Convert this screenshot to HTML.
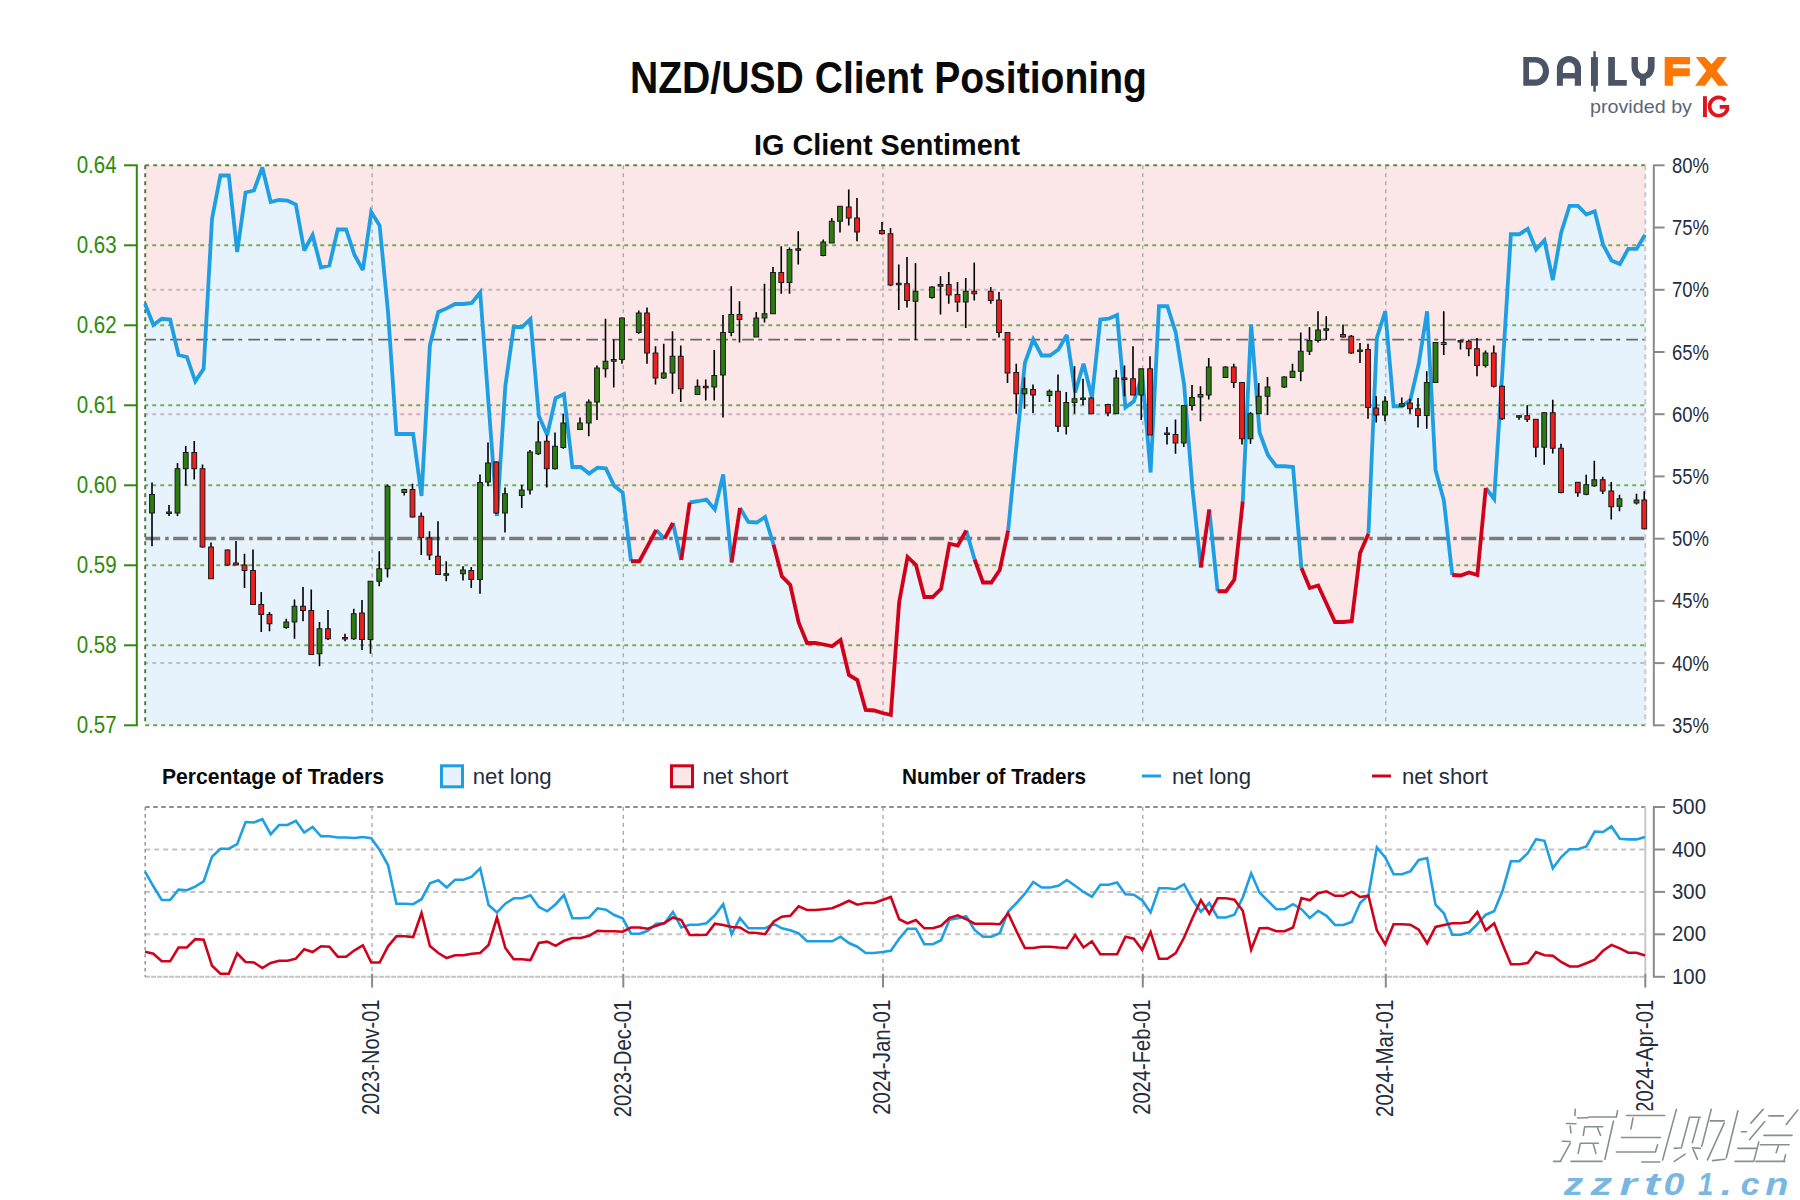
<!DOCTYPE html>
<html><head><meta charset="utf-8"><title>NZD/USD Client Positioning</title>
<style>
html,body{margin:0;padding:0;background:#fff;}
body{width:1800px;height:1200px;overflow:hidden;}
svg{display:block;font-family:"Liberation Sans",sans-serif;}
</style></head><body>
<svg width="1800" height="1200" viewBox="0 0 1800 1200">
<rect x="0" y="0" width="1800" height="1200" fill="#ffffff"/>

<text x="630" y="92.8" font-size="43.5" font-weight="bold" fill="#0a0a0a" textLength="517" lengthAdjust="spacingAndGlyphs">NZD/USD Client Positioning</text>
<text x="754" y="155" font-size="30" font-weight="bold" fill="#0a0a0a" textLength="266" lengthAdjust="spacingAndGlyphs">IG Client Sentiment</text>
<rect x="145.2" y="165.3" width="1500.1" height="560.0" fill="#fbe6e8"/>
<polygon points="145.2,725.3 145.00,303.75 153.38,325.00 161.76,318.75 170.14,319.50 178.52,355.00 186.90,357.00 195.28,381.25 203.66,368.75 212.04,218.75 220.42,175.50 228.80,175.50 237.18,252.00 245.56,192.50 253.94,190.50 262.32,167.50 270.70,202.00 279.08,200.00 287.46,200.50 295.84,204.50 304.22,250.50 312.60,235.00 320.98,267.50 329.36,265.50 337.74,229.50 346.12,229.50 354.50,255.00 362.88,270.00 371.26,212.00 379.64,225.50 388.02,312.00 396.40,434.00 404.78,434.00 413.16,434.00 421.54,496.00 429.92,345.00 438.30,312.00 446.68,308.40 455.06,304.00 463.44,304.00 471.82,303.00 480.20,292.40 488.58,404.00 496.96,516.00 505.34,386.00 513.72,327.00 522.09,327.00 530.47,319.00 538.85,416.00 547.23,435.00 555.61,398.00 563.99,394.00 572.37,467.00 580.75,467.00 589.13,473.60 597.51,467.60 605.89,468.40 614.27,486.00 622.65,492.50 631.03,561.25 639.41,561.25 647.79,545.60 656.17,530.00 664.55,538.75 672.93,523.00 681.31,560.00 689.69,502.50 698.07,501.25 706.45,499.50 714.83,509.50 723.21,474.50 731.59,562.50 739.97,508.00 748.35,522.00 756.73,522.50 765.11,517.00 773.49,544.50 781.87,576.25 790.25,585.00 798.63,622.50 807.01,643.00 815.39,643.00 823.77,644.50 832.15,646.25 840.53,640.00 848.91,675.00 857.29,680.00 865.67,710.00 874.05,710.50 882.43,713.00 890.81,715.00 899.19,602.00 907.57,557.00 915.95,565.00 924.33,597.00 932.71,597.00 941.09,588.75 949.47,543.75 957.85,545.50 966.23,530.50 974.61,559.50 982.99,582.50 991.37,582.50 999.75,570.00 1008.13,530.50 1016.51,445.00 1024.89,363.00 1033.27,339.50 1041.65,355.50 1050.03,355.50 1058.41,349.50 1066.79,335.00 1075.17,392.50 1083.55,363.75 1091.93,397.50 1100.31,319.50 1108.69,318.75 1117.07,315.00 1125.45,407.50 1133.83,401.25 1142.21,375.00 1150.59,472.50 1158.97,306.25 1167.35,306.25 1175.73,332.50 1184.11,384.50 1192.49,488.75 1200.87,567.50 1209.25,509.50 1217.63,591.25 1226.01,591.25 1234.39,579.50 1242.77,501.25 1251.15,324.50 1259.53,432.50 1267.91,455.00 1276.28,466.25 1284.66,466.25 1293.04,467.00 1301.42,568.00 1309.80,588.00 1318.18,585.50 1326.56,603.75 1334.94,622.00 1343.32,622.00 1351.70,621.25 1360.08,553.00 1368.46,533.75 1376.84,338.00 1385.22,311.25 1393.60,406.25 1401.98,406.25 1410.36,400.00 1418.74,363.75 1427.12,311.25 1435.50,470.00 1443.88,500.50 1452.26,575.00 1460.64,575.50 1469.02,572.50 1477.40,575.00 1485.78,488.00 1494.16,499.00 1502.54,369.00 1510.92,234.25 1519.30,234.25 1527.68,228.75 1536.06,249.50 1544.44,240.30 1552.82,280.00 1561.20,232.40 1569.58,205.80 1577.96,205.80 1586.34,214.60 1594.72,211.30 1603.10,244.70 1611.48,260.50 1619.86,264.10 1628.24,248.90 1636.62,248.90 1645.00,234.80 1645.3,725.3" fill="#e7f3fc"/>
<line x1="145.2" y1="289.8" x2="1645.3" y2="289.8" stroke="#7a7a7a" stroke-opacity="0.42" stroke-width="2" stroke-dasharray="4 4" stroke-dashoffset="1"/>
<line x1="145.2" y1="414.2" x2="1645.3" y2="414.2" stroke="#7a7a7a" stroke-opacity="0.42" stroke-width="2" stroke-dasharray="4 4" stroke-dashoffset="1"/>
<line x1="145.2" y1="663.1" x2="1645.3" y2="663.1" stroke="#7a7a7a" stroke-opacity="0.42" stroke-width="2" stroke-dasharray="4 4" stroke-dashoffset="1"/>
<line x1="372.1" y1="165.3" x2="372.1" y2="725.3" stroke="#a8a8a8" stroke-width="1.3" stroke-dasharray="4 4"/>
<line x1="623.3" y1="165.3" x2="623.3" y2="725.3" stroke="#a8a8a8" stroke-width="1.3" stroke-dasharray="4 4"/>
<line x1="883.0" y1="165.3" x2="883.0" y2="725.3" stroke="#a8a8a8" stroke-width="1.3" stroke-dasharray="4 4"/>
<line x1="1142.8" y1="165.3" x2="1142.8" y2="725.3" stroke="#a8a8a8" stroke-width="1.3" stroke-dasharray="4 4"/>
<line x1="1385.8" y1="165.3" x2="1385.8" y2="725.3" stroke="#a8a8a8" stroke-width="1.3" stroke-dasharray="4 4"/>
<line x1="145.2" y1="245.3" x2="1645.3" y2="245.3" stroke="#78ad52" stroke-width="2" stroke-dasharray="4 4" stroke-dashoffset="1"/>
<line x1="145.2" y1="325.3" x2="1645.3" y2="325.3" stroke="#78ad52" stroke-width="2" stroke-dasharray="4 4" stroke-dashoffset="1"/>
<line x1="145.2" y1="405.3" x2="1645.3" y2="405.3" stroke="#78ad52" stroke-width="2" stroke-dasharray="4 4" stroke-dashoffset="1"/>
<line x1="145.2" y1="485.3" x2="1645.3" y2="485.3" stroke="#78ad52" stroke-width="2" stroke-dasharray="4 4" stroke-dashoffset="1"/>
<line x1="145.2" y1="565.3" x2="1645.3" y2="565.3" stroke="#78ad52" stroke-width="2" stroke-dasharray="4 4" stroke-dashoffset="1"/>
<line x1="145.2" y1="645.3" x2="1645.3" y2="645.3" stroke="#78ad52" stroke-width="2" stroke-dasharray="4 4" stroke-dashoffset="1"/>
<line x1="145.2" y1="339.6" x2="1645.3" y2="339.6" stroke="#6a6a6a" stroke-width="1.6" stroke-dasharray="11.8 4.2 4 6" stroke-dashoffset="1"/>
<line x1="145.2" y1="538.5" x2="1645.3" y2="538.5" stroke="#7a7a7a" stroke-width="3.5" stroke-dasharray="15 5 3.5 4.5"/>
<line x1="145.2" y1="165.3" x2="1645.3" y2="165.3" stroke="#5a8a3a" stroke-width="2" stroke-dasharray="4 4"/>
<line x1="145.2" y1="725.3" x2="1645.3" y2="725.3" stroke="#6fa04a" stroke-width="2" stroke-dasharray="4 4"/>
<line x1="145.2" y1="165.3" x2="145.2" y2="725.3" stroke="#5a7a40" stroke-width="2" stroke-dasharray="4 4"/>
<line x1="1645.3" y1="165.3" x2="1645.3" y2="725.3" stroke="#c8c8c8" stroke-width="2" stroke-dasharray="5 4"/>
<path d="M145.00,303.75L153.38,325.00L161.76,318.75L170.14,319.50L178.52,355.00L186.90,357.00L195.28,381.25L203.66,368.75L212.04,218.75L220.42,175.50L228.80,175.50L237.18,252.00L245.56,192.50L253.94,190.50L262.32,167.50L270.70,202.00L279.08,200.00L287.46,200.50L295.84,204.50L304.22,250.50L312.60,235.00L320.98,267.50L329.36,265.50L337.74,229.50L346.12,229.50L354.50,255.00L362.88,270.00L371.26,212.00L379.64,225.50L388.02,312.00L396.40,434.00L404.78,434.00L413.16,434.00L421.54,496.00L429.92,345.00L438.30,312.00L446.68,308.40L455.06,304.00L463.44,304.00L471.82,303.00L480.20,292.40L488.58,404.00L496.96,516.00L505.34,386.00L513.72,327.00L522.09,327.00L530.47,319.00L538.85,416.00L547.23,435.00L555.61,398.00L563.99,394.00L572.37,467.00L580.75,467.00L589.13,473.60L597.51,467.60L605.89,468.40L614.27,486.00L622.65,492.50L631.03,561.25M656.17,530.00L664.55,538.75M672.93,523.00L681.31,560.00M689.69,502.50L698.07,501.25L706.45,499.50L714.83,509.50L723.21,474.50L731.59,562.50M739.97,508.00L748.35,522.00L756.73,522.50L765.11,517.00L773.49,544.50M966.23,530.50L974.61,559.50M1008.13,530.50L1016.51,445.00L1024.89,363.00L1033.27,339.50L1041.65,355.50L1050.03,355.50L1058.41,349.50L1066.79,335.00L1075.17,392.50L1083.55,363.75L1091.93,397.50L1100.31,319.50L1108.69,318.75L1117.07,315.00L1125.45,407.50L1133.83,401.25L1142.21,375.00L1150.59,472.50L1158.97,306.25L1167.35,306.25L1175.73,332.50L1184.11,384.50L1192.49,488.75L1200.87,567.50M1209.25,509.50L1217.63,591.25M1242.77,501.25L1251.15,324.50L1259.53,432.50L1267.91,455.00L1276.28,466.25L1284.66,466.25L1293.04,467.00L1301.42,568.00M1368.46,533.75L1376.84,338.00L1385.22,311.25L1393.60,406.25L1401.98,406.25L1410.36,400.00L1418.74,363.75L1427.12,311.25L1435.50,470.00L1443.88,500.50L1452.26,575.00M1485.78,488.00L1494.16,499.00L1502.54,369.00L1510.92,234.25L1519.30,234.25L1527.68,228.75L1536.06,249.50L1544.44,240.30L1552.82,280.00L1561.20,232.40L1569.58,205.80L1577.96,205.80L1586.34,214.60L1594.72,211.30L1603.10,244.70L1611.48,260.50L1619.86,264.10L1628.24,248.90L1636.62,248.90L1645.00,234.80" stroke="#1e9fe3" stroke-width="3.8" fill="none" stroke-linejoin="miter" stroke-miterlimit="3" stroke-linecap="butt"/>
<path d="M631.03,561.25L639.41,561.25L647.79,545.60L656.17,530.00M664.55,538.75L672.93,523.00M681.31,560.00L689.69,502.50M731.59,562.50L739.97,508.00M773.49,544.50L781.87,576.25L790.25,585.00L798.63,622.50L807.01,643.00L815.39,643.00L823.77,644.50L832.15,646.25L840.53,640.00L848.91,675.00L857.29,680.00L865.67,710.00L874.05,710.50L882.43,713.00L890.81,715.00L899.19,602.00L907.57,557.00L915.95,565.00L924.33,597.00L932.71,597.00L941.09,588.75L949.47,543.75L957.85,545.50L966.23,530.50M974.61,559.50L982.99,582.50L991.37,582.50L999.75,570.00L1008.13,530.50M1200.87,567.50L1209.25,509.50M1217.63,591.25L1226.01,591.25L1234.39,579.50L1242.77,501.25M1301.42,568.00L1309.80,588.00L1318.18,585.50L1326.56,603.75L1334.94,622.00L1343.32,622.00L1351.70,621.25L1360.08,553.00L1368.46,533.75M1452.26,575.00L1460.64,575.50L1469.02,572.50L1477.40,575.00L1485.78,488.00" stroke="#d0021b" stroke-width="3.8" fill="none" stroke-linejoin="miter" stroke-miterlimit="3" stroke-linecap="butt"/>
<path d="M152.00,482.50V546.25M169.00,505.00V516.00M177.50,463.00V516.00M185.75,446.00V485.50M194.25,441.00V479.50M202.50,464.50V547.50M211.00,542.50V578.75M227.50,549.50V566.00M236.00,541.00V565.00M244.50,553.75V588.00M253.00,549.50V604.50M261.25,592.00V632.00M269.50,612.00V631.25M286.25,618.75V628.75M294.50,599.50V638.75M303.00,587.00V621.25M311.25,589.50V655.00M319.50,622.00V666.25M328.00,610.00V640.00M345.00,633.75V641.25M353.75,608.75V640.00M362.00,600.00V650.00M370.50,581.25V653.75M379.25,551.25V586.25M387.50,484.50V577.50M404.25,488.75V495.50M412.50,483.75V517.50M421.25,512.50V555.00M429.50,531.25V560.00M438.00,521.25V575.00M446.25,561.25V581.25M463.00,566.25V580.50M471.25,567.00V588.00M480.00,474.50V593.75M488.00,442.50V486.25M496.25,461.25V513.75M505.00,487.50V532.50M521.75,485.00V508.00M530.00,450.00V494.50M538.25,421.25V455.00M546.75,435.00V487.50M555.00,432.50V469.50M563.25,413.75V448.75M580.00,417.50V430.00M588.75,399.50V436.25M597.00,365.50V420.00M605.50,318.75V377.50M613.75,339.50V387.50M622.00,317.50V363.75M638.75,310.50V333.75M647.00,307.50V363.75M655.50,346.25V384.50M663.75,343.75V378.75M672.50,331.25V393.75M680.75,345.50V402.00M697.50,379.50V395.00M705.75,379.50V400.50M714.25,350.00V400.50M723.00,315.00V417.50M731.25,286.25V336.25M739.50,301.25V342.50M756.25,312.00V337.00M764.50,283.75V322.50M773.00,267.00V313.75M781.25,246.25V293.75M789.50,247.50V293.75M798.25,231.25V264.50M823.25,239.50V256.25M831.75,218.00V243.00M840.00,206.25V232.50M848.75,189.50V225.50M857.00,198.00V241.25M882.00,222.00V234.50M890.50,228.00V286.25M898.75,264.50V310.00M907.00,257.00V307.50M915.50,263.00V340.00M932.00,286.25V298.75M940.50,276.25V314.50M948.75,272.00V303.75M957.50,282.00V312.00M965.75,278.00V328.00M974.25,262.50V300.50M990.75,287.00V303.75M999.00,292.00V337.50M1007.50,332.50V383.00M1016.25,363.75V413.75M1024.50,377.50V408.75M1033.00,384.50V413.00M1049.50,389.50V402.00M1058.00,374.50V432.00M1066.25,392.00V434.50M1074.50,366.25V413.75M1083.00,378.75V405.00M1091.25,397.50V413.75M1108.00,403.75V416.25M1116.25,370.00V413.75M1124.50,365.50V396.25M1133.00,346.25V395.00M1141.25,368.75V420.00M1150.00,356.25V435.00M1167.00,427.00V444.50M1175.50,419.50V453.75M1183.75,405.50V447.00M1192.00,385.00V410.50M1200.50,386.25V421.25M1208.75,358.00V399.50M1225.50,366.25V378.00M1233.75,363.75V388.00M1242.00,382.00V444.50M1250.50,412.00V443.75M1258.75,383.00V413.75M1267.50,377.00V415.00M1284.25,376.25V388.00M1292.50,363.75V378.00M1300.75,332.50V381.25M1309.50,327.00V355.00M1318.00,311.25V342.50M1326.25,316.25V340.00M1343.00,324.50V337.50M1351.25,335.00V353.75M1360.00,343.00V363.00M1368.00,343.75V418.75M1376.25,396.25V422.50M1385.00,396.25V421.25M1401.75,397.50V407.00M1410.00,398.75V413.75M1418.00,398.00V427.50M1426.75,371.25V428.75M1435.50,342.00V383.00M1443.75,311.25V355.00M1460.50,340.00V349.50M1468.75,339.50V356.25M1477.00,338.00V376.25M1485.50,350.50V367.50M1493.75,345.50V387.50M1502.00,385.50V420.00M1519.00,415.25V419.75M1527.25,405.20V422.00M1535.80,419.00V457.25M1544.20,412.25V464.75M1552.75,399.80V453.50M1561.00,443.75V493.25M1577.80,482.00V496.70M1586.20,474.80V495.20M1594.30,460.70V486.80M1602.70,476.75V494.00M1611.25,482.00V519.50M1619.50,494.75V511.25M1636.50,493.70V504.50M1644.25,491.30V529.25" stroke="#000" stroke-width="1.6" fill="none"/>
<g fill="#2a7d0e" stroke="#1a1a1a" stroke-width="1"><rect x="149.60" y="494.50" width="4.8" height="18.50"/><rect x="166.60" y="512.00" width="4.8" height="1.50"/><rect x="175.10" y="468.75" width="4.8" height="44.25"/><rect x="183.35" y="452.50" width="4.8" height="16.25"/><rect x="283.85" y="622.00" width="4.8" height="5.50"/><rect x="292.10" y="606.25" width="4.8" height="15.75"/><rect x="317.10" y="628.75" width="4.8" height="25.00"/><rect x="351.35" y="613.75" width="4.8" height="25.00"/><rect x="368.10" y="581.25" width="4.8" height="58.25"/><rect x="376.85" y="568.75" width="4.8" height="12.50"/><rect x="385.10" y="486.25" width="4.8" height="82.50"/><rect x="401.85" y="489.50" width="4.8" height="3.00"/><rect x="443.85" y="573.75" width="4.8" height="1.50"/><rect x="460.60" y="570.00" width="4.8" height="3.75"/><rect x="477.60" y="482.50" width="4.8" height="97.00"/><rect x="485.60" y="463.00" width="4.8" height="19.00"/><rect x="502.60" y="493.75" width="4.8" height="19.25"/><rect x="519.35" y="490.00" width="4.8" height="5.50"/><rect x="527.60" y="452.00" width="4.8" height="38.00"/><rect x="535.85" y="442.00" width="4.8" height="11.75"/><rect x="552.60" y="446.25" width="4.8" height="22.50"/><rect x="560.85" y="423.00" width="4.8" height="24.50"/><rect x="577.60" y="423.00" width="4.8" height="6.50"/><rect x="586.35" y="402.00" width="4.8" height="21.00"/><rect x="594.60" y="368.00" width="4.8" height="34.00"/><rect x="603.10" y="361.25" width="4.8" height="7.50"/><rect x="611.35" y="359.50" width="4.8" height="1.75"/><rect x="619.60" y="318.00" width="4.8" height="41.50"/><rect x="636.35" y="313.00" width="4.8" height="19.50"/><rect x="661.35" y="373.00" width="4.8" height="5.00"/><rect x="670.10" y="356.25" width="4.8" height="16.75"/><rect x="695.10" y="386.25" width="4.8" height="8.25"/><rect x="711.85" y="375.50" width="4.8" height="11.50"/><rect x="720.60" y="332.50" width="4.8" height="42.50"/><rect x="728.85" y="314.50" width="4.8" height="18.00"/><rect x="753.85" y="318.00" width="4.8" height="19.00"/><rect x="762.10" y="313.75" width="4.8" height="4.25"/><rect x="770.60" y="272.50" width="4.8" height="41.25"/><rect x="787.10" y="249.50" width="4.8" height="33.00"/><rect x="795.85" y="248.75" width="4.8" height="1.50"/><rect x="820.85" y="242.00" width="4.8" height="13.50"/><rect x="829.35" y="221.25" width="4.8" height="21.75"/><rect x="837.60" y="206.25" width="4.8" height="15.00"/><rect x="896.35" y="283.25" width="4.8" height="1.50"/><rect x="913.10" y="291.25" width="4.8" height="10.00"/><rect x="929.60" y="287.00" width="4.8" height="10.50"/><rect x="938.10" y="284.50" width="4.8" height="1.75"/><rect x="963.35" y="291.25" width="4.8" height="10.75"/><rect x="1022.10" y="388.75" width="4.8" height="5.00"/><rect x="1047.10" y="391.25" width="4.8" height="4.25"/><rect x="1063.85" y="402.50" width="4.8" height="23.75"/><rect x="1072.10" y="398.75" width="4.8" height="3.75"/><rect x="1080.60" y="398.00" width="4.8" height="1.50"/><rect x="1113.85" y="378.00" width="4.8" height="35.75"/><rect x="1138.85" y="368.75" width="4.8" height="26.25"/><rect x="1181.35" y="405.50" width="4.8" height="37.50"/><rect x="1189.60" y="397.50" width="4.8" height="8.00"/><rect x="1198.10" y="394.50" width="4.8" height="2.50"/><rect x="1206.35" y="367.00" width="4.8" height="28.00"/><rect x="1223.10" y="367.00" width="4.8" height="10.50"/><rect x="1248.10" y="413.75" width="4.8" height="25.00"/><rect x="1256.35" y="396.25" width="4.8" height="17.50"/><rect x="1265.10" y="387.00" width="4.8" height="9.25"/><rect x="1281.85" y="377.00" width="4.8" height="10.00"/><rect x="1290.10" y="371.25" width="4.8" height="6.25"/><rect x="1298.35" y="351.25" width="4.8" height="20.00"/><rect x="1307.10" y="340.50" width="4.8" height="10.75"/><rect x="1315.60" y="330.00" width="4.8" height="10.50"/><rect x="1323.85" y="328.75" width="4.8" height="1.50"/><rect x="1357.60" y="350.00" width="4.8" height="1.50"/><rect x="1382.60" y="401.25" width="4.8" height="13.75"/><rect x="1399.35" y="403.75" width="4.8" height="2.50"/><rect x="1424.35" y="382.50" width="4.8" height="33.00"/><rect x="1433.10" y="342.50" width="4.8" height="40.00"/><rect x="1458.10" y="340.50" width="4.8" height="1.50"/><rect x="1483.10" y="353.00" width="4.8" height="12.50"/><rect x="1516.60" y="415.70" width="4.8" height="1.50"/><rect x="1541.80" y="412.70" width="4.8" height="34.50"/><rect x="1583.80" y="484.70" width="4.8" height="9.60"/><rect x="1591.90" y="479.75" width="4.8" height="6.00"/><rect x="1617.10" y="498.80" width="4.8" height="7.50"/><rect x="1634.10" y="500.00" width="4.8" height="3.00"/></g>
<g fill="#f01e1e" stroke="#1a1a1a" stroke-width="1"><rect x="191.85" y="452.50" width="4.8" height="16.25"/><rect x="200.10" y="468.75" width="4.8" height="78.25"/><rect x="208.60" y="547.00" width="4.8" height="31.75"/><rect x="225.10" y="550.00" width="4.8" height="15.00"/><rect x="233.60" y="563.00" width="4.8" height="2.00"/><rect x="242.10" y="565.00" width="4.8" height="5.50"/><rect x="250.60" y="570.50" width="4.8" height="34.00"/><rect x="258.85" y="604.50" width="4.8" height="10.00"/><rect x="267.10" y="614.50" width="4.8" height="9.25"/><rect x="300.60" y="606.25" width="4.8" height="4.25"/><rect x="308.85" y="610.50" width="4.8" height="44.00"/><rect x="325.60" y="628.75" width="4.8" height="10.00"/><rect x="342.60" y="637.50" width="4.8" height="1.50"/><rect x="359.60" y="613.00" width="4.8" height="26.50"/><rect x="410.10" y="489.50" width="4.8" height="27.50"/><rect x="418.85" y="516.25" width="4.8" height="21.25"/><rect x="427.10" y="538.00" width="4.8" height="17.00"/><rect x="435.60" y="556.25" width="4.8" height="18.25"/><rect x="468.85" y="570.50" width="4.8" height="9.00"/><rect x="493.85" y="462.00" width="4.8" height="51.00"/><rect x="544.35" y="441.25" width="4.8" height="27.50"/><rect x="644.60" y="313.00" width="4.8" height="40.00"/><rect x="653.10" y="353.00" width="4.8" height="25.00"/><rect x="678.35" y="356.25" width="4.8" height="32.50"/><rect x="703.35" y="386.25" width="4.8" height="1.50"/><rect x="737.10" y="314.50" width="4.8" height="5.00"/><rect x="778.85" y="272.50" width="4.8" height="10.00"/><rect x="846.35" y="207.00" width="4.8" height="11.00"/><rect x="854.60" y="218.00" width="4.8" height="14.00"/><rect x="879.60" y="230.50" width="4.8" height="3.25"/><rect x="888.10" y="233.75" width="4.8" height="51.25"/><rect x="904.60" y="283.75" width="4.8" height="16.75"/><rect x="946.35" y="284.50" width="4.8" height="10.50"/><rect x="955.10" y="294.50" width="4.8" height="7.50"/><rect x="971.85" y="291.25" width="4.8" height="2.50"/><rect x="988.35" y="291.25" width="4.8" height="9.25"/><rect x="996.60" y="300.00" width="4.8" height="32.50"/><rect x="1005.10" y="332.50" width="4.8" height="40.50"/><rect x="1013.85" y="372.50" width="4.8" height="21.25"/><rect x="1030.60" y="389.50" width="4.8" height="5.50"/><rect x="1055.60" y="391.25" width="4.8" height="35.00"/><rect x="1088.85" y="398.00" width="4.8" height="15.75"/><rect x="1105.60" y="404.50" width="4.8" height="8.50"/><rect x="1122.10" y="378.00" width="4.8" height="1.50"/><rect x="1130.60" y="378.75" width="4.8" height="16.25"/><rect x="1147.60" y="368.75" width="4.8" height="66.25"/><rect x="1164.60" y="433.00" width="4.8" height="1.50"/><rect x="1173.10" y="434.50" width="4.8" height="8.50"/><rect x="1231.35" y="367.00" width="4.8" height="15.50"/><rect x="1239.60" y="382.50" width="4.8" height="56.25"/><rect x="1340.60" y="334.50" width="4.8" height="2.50"/><rect x="1348.85" y="336.25" width="4.8" height="16.75"/><rect x="1365.60" y="349.50" width="4.8" height="58.00"/><rect x="1373.85" y="408.00" width="4.8" height="7.00"/><rect x="1407.60" y="403.00" width="4.8" height="5.75"/><rect x="1415.60" y="408.75" width="4.8" height="6.75"/><rect x="1441.35" y="342.50" width="4.8" height="2.00"/><rect x="1466.35" y="341.25" width="4.8" height="7.50"/><rect x="1474.60" y="348.75" width="4.8" height="16.75"/><rect x="1491.35" y="353.00" width="4.8" height="33.25"/><rect x="1499.60" y="386.25" width="4.8" height="32.50"/><rect x="1524.85" y="415.70" width="4.8" height="3.60"/><rect x="1533.40" y="419.30" width="4.8" height="27.90"/><rect x="1550.35" y="412.70" width="4.8" height="35.55"/><rect x="1558.60" y="448.25" width="4.8" height="44.25"/><rect x="1575.40" y="482.30" width="4.8" height="10.50"/><rect x="1600.30" y="479.75" width="4.8" height="11.25"/><rect x="1608.85" y="491.00" width="4.8" height="15.75"/><rect x="1641.85" y="500.00" width="4.8" height="28.80"/></g>
<line x1="136.8" y1="165.3" x2="136.8" y2="725.3" stroke="#2f8a0a" stroke-width="2"/>
<line x1="124" y1="165.3" x2="137.8" y2="165.3" stroke="#2f8a0a" stroke-width="2"/>
<text x="116.7" y="172.9" font-size="23.5" fill="#2f8a0a" text-anchor="end" textLength="40" lengthAdjust="spacingAndGlyphs">0.64</text>
<line x1="124" y1="245.3" x2="137.8" y2="245.3" stroke="#2f8a0a" stroke-width="2"/>
<text x="116.7" y="252.9" font-size="23.5" fill="#2f8a0a" text-anchor="end" textLength="40" lengthAdjust="spacingAndGlyphs">0.63</text>
<line x1="124" y1="325.3" x2="137.8" y2="325.3" stroke="#2f8a0a" stroke-width="2"/>
<text x="116.7" y="332.9" font-size="23.5" fill="#2f8a0a" text-anchor="end" textLength="40" lengthAdjust="spacingAndGlyphs">0.62</text>
<line x1="124" y1="405.3" x2="137.8" y2="405.3" stroke="#2f8a0a" stroke-width="2"/>
<text x="116.7" y="412.9" font-size="23.5" fill="#2f8a0a" text-anchor="end" textLength="40" lengthAdjust="spacingAndGlyphs">0.61</text>
<line x1="124" y1="485.3" x2="137.8" y2="485.3" stroke="#2f8a0a" stroke-width="2"/>
<text x="116.7" y="492.9" font-size="23.5" fill="#2f8a0a" text-anchor="end" textLength="40" lengthAdjust="spacingAndGlyphs">0.60</text>
<line x1="124" y1="565.3" x2="137.8" y2="565.3" stroke="#2f8a0a" stroke-width="2"/>
<text x="116.7" y="572.9" font-size="23.5" fill="#2f8a0a" text-anchor="end" textLength="40" lengthAdjust="spacingAndGlyphs">0.59</text>
<line x1="124" y1="645.3" x2="137.8" y2="645.3" stroke="#2f8a0a" stroke-width="2"/>
<text x="116.7" y="652.9" font-size="23.5" fill="#2f8a0a" text-anchor="end" textLength="40" lengthAdjust="spacingAndGlyphs">0.58</text>
<line x1="124" y1="725.3" x2="137.8" y2="725.3" stroke="#2f8a0a" stroke-width="2"/>
<text x="116.7" y="732.9" font-size="23.5" fill="#2f8a0a" text-anchor="end" textLength="40" lengthAdjust="spacingAndGlyphs">0.57</text>
<line x1="1653.8" y1="165.3" x2="1653.8" y2="725.3" stroke="#8a8a8a" stroke-width="2"/>
<line x1="1653" y1="165.3" x2="1664.6" y2="165.3" stroke="#8a8a8a" stroke-width="2"/>
<text x="1672" y="172.8" font-size="22" fill="#1f2d3d" textLength="37" lengthAdjust="spacingAndGlyphs">80%</text>
<line x1="1653" y1="227.5" x2="1664.6" y2="227.5" stroke="#8a8a8a" stroke-width="2"/>
<text x="1672" y="235.0" font-size="22" fill="#1f2d3d" textLength="37" lengthAdjust="spacingAndGlyphs">75%</text>
<line x1="1653" y1="289.8" x2="1664.6" y2="289.8" stroke="#8a8a8a" stroke-width="2"/>
<text x="1672" y="297.2" font-size="22" fill="#1f2d3d" textLength="37" lengthAdjust="spacingAndGlyphs">70%</text>
<line x1="1653" y1="352.0" x2="1664.6" y2="352.0" stroke="#8a8a8a" stroke-width="2"/>
<text x="1672" y="359.5" font-size="22" fill="#1f2d3d" textLength="37" lengthAdjust="spacingAndGlyphs">65%</text>
<line x1="1653" y1="414.2" x2="1664.6" y2="414.2" stroke="#8a8a8a" stroke-width="2"/>
<text x="1672" y="421.7" font-size="22" fill="#1f2d3d" textLength="37" lengthAdjust="spacingAndGlyphs">60%</text>
<line x1="1653" y1="476.4" x2="1664.6" y2="476.4" stroke="#8a8a8a" stroke-width="2"/>
<text x="1672" y="483.9" font-size="22" fill="#1f2d3d" textLength="37" lengthAdjust="spacingAndGlyphs">55%</text>
<line x1="1653" y1="538.7" x2="1664.6" y2="538.7" stroke="#8a8a8a" stroke-width="2"/>
<text x="1672" y="546.2" font-size="22" fill="#1f2d3d" textLength="37" lengthAdjust="spacingAndGlyphs">50%</text>
<line x1="1653" y1="600.9" x2="1664.6" y2="600.9" stroke="#8a8a8a" stroke-width="2"/>
<text x="1672" y="608.4" font-size="22" fill="#1f2d3d" textLength="37" lengthAdjust="spacingAndGlyphs">45%</text>
<line x1="1653" y1="663.1" x2="1664.6" y2="663.1" stroke="#8a8a8a" stroke-width="2"/>
<text x="1672" y="670.6" font-size="22" fill="#1f2d3d" textLength="37" lengthAdjust="spacingAndGlyphs">40%</text>
<line x1="1653" y1="725.3" x2="1664.6" y2="725.3" stroke="#8a8a8a" stroke-width="2"/>
<text x="1672" y="732.8" font-size="22" fill="#1f2d3d" textLength="37" lengthAdjust="spacingAndGlyphs">35%</text>
<text x="162" y="784" font-size="21.5" font-weight="bold" fill="#0a0a0a" textLength="222" lengthAdjust="spacingAndGlyphs">Percentage of Traders</text>
<rect x="441.5" y="765.8" width="21" height="21" fill="#e7f3fc" stroke="#1e9fe3" stroke-width="3"/>
<text x="472.7" y="784" font-size="22" fill="#1f2d3d" textLength="79" lengthAdjust="spacingAndGlyphs">net long</text>
<rect x="671.5" y="765.8" width="21" height="21" fill="#fbe6e8" stroke="#d0021b" stroke-width="3"/>
<text x="702.5" y="784" font-size="22" fill="#1f2d3d" textLength="86" lengthAdjust="spacingAndGlyphs">net short</text>
<text x="902" y="784" font-size="21.5" font-weight="bold" fill="#0a0a0a" textLength="184" lengthAdjust="spacingAndGlyphs">Number of Traders</text>
<line x1="1142" y1="776" x2="1161" y2="776" stroke="#1e9fe3" stroke-width="3"/>
<text x="1172" y="784" font-size="22" fill="#1f2d3d" textLength="79" lengthAdjust="spacingAndGlyphs">net long</text>
<line x1="1372" y1="776" x2="1391" y2="776" stroke="#d0021b" stroke-width="3"/>
<text x="1402" y="784" font-size="22" fill="#1f2d3d" textLength="86" lengthAdjust="spacingAndGlyphs">net short</text>
<line x1="145.2" y1="807.0" x2="1645.3" y2="807.0" stroke="#8e8e8e" stroke-width="1.8" stroke-dasharray="4.5 3.5"/>
<line x1="145.2" y1="849.5" x2="1645.3" y2="849.5" stroke="#c4c4c4" stroke-width="2" stroke-dasharray="5 4"/>
<line x1="145.2" y1="891.9" x2="1645.3" y2="891.9" stroke="#c4c4c4" stroke-width="2" stroke-dasharray="5 4"/>
<line x1="145.2" y1="934.3" x2="1645.3" y2="934.3" stroke="#c4c4c4" stroke-width="2" stroke-dasharray="5 4"/>
<line x1="145.2" y1="976.8" x2="1645.3" y2="976.8" stroke="#c4c4c4" stroke-width="2" stroke-dasharray="5 1"/>
<line x1="145.2" y1="807.0" x2="145.2" y2="976.8" stroke="#9a9a9a" stroke-width="1.6" stroke-dasharray="3.5 3.5"/>
<line x1="1645.3" y1="807.0" x2="1645.3" y2="976.8" stroke="#c8c8c8" stroke-width="2"/>
<line x1="372.1" y1="807.0" x2="372.1" y2="976.8" stroke="#a8a8a8" stroke-width="1.3" stroke-dasharray="4 4"/>
<line x1="623.3" y1="807.0" x2="623.3" y2="976.8" stroke="#a8a8a8" stroke-width="1.3" stroke-dasharray="4 4"/>
<line x1="883.0" y1="807.0" x2="883.0" y2="976.8" stroke="#a8a8a8" stroke-width="1.3" stroke-dasharray="4 4"/>
<line x1="1142.8" y1="807.0" x2="1142.8" y2="976.8" stroke="#a8a8a8" stroke-width="1.3" stroke-dasharray="4 4"/>
<line x1="1385.8" y1="807.0" x2="1385.8" y2="976.8" stroke="#a8a8a8" stroke-width="1.3" stroke-dasharray="4 4"/>
<polyline points="145.00,871.70 153.38,886.30 161.76,900.00 170.14,900.00 178.52,889.70 186.90,890.30 195.28,886.70 203.66,881.30 212.04,856.70 220.42,848.70 228.80,848.70 237.18,844.20 245.56,822.00 253.94,822.50 262.32,819.20 270.70,834.20 279.08,825.00 287.46,825.00 295.84,820.80 304.22,832.50 312.60,827.00 320.98,836.30 329.36,836.30 337.74,837.50 346.12,837.50 354.50,838.00 362.88,837.00 371.26,838.30 379.64,850.00 388.02,865.00 396.40,903.70 404.78,903.70 413.16,904.20 421.54,899.20 429.92,883.30 438.30,880.30 446.68,887.50 455.06,879.70 463.44,879.70 471.82,876.70 480.20,868.30 488.58,905.00 496.96,912.50 505.34,903.70 513.72,898.30 522.09,898.30 530.47,895.30 538.85,907.00 547.23,911.30 555.61,904.20 563.99,895.00 572.37,918.30 580.75,918.30 589.13,917.50 597.51,908.30 605.89,909.70 614.27,915.00 622.65,918.30 631.03,933.70 639.41,933.70 647.79,930.80 656.17,923.70 664.55,923.30 672.93,912.00 681.31,927.50 689.69,924.70 698.07,924.70 706.45,923.30 714.83,915.30 723.21,904.20 731.59,934.20 739.97,918.00 748.35,928.30 756.73,928.30 765.11,928.30 773.49,923.70 781.87,928.30 790.25,930.30 798.63,933.30 807.01,941.30 815.39,941.30 823.77,941.30 832.15,941.30 840.53,936.70 848.91,943.00 857.29,946.70 865.67,953.00 874.05,953.00 882.43,952.00 890.81,950.80 899.19,938.70 907.57,928.70 915.95,928.70 924.33,944.20 932.71,944.20 941.09,940.30 949.47,919.70 957.85,918.30 966.23,916.30 974.61,930.00 982.99,936.70 991.37,936.70 999.75,933.30 1008.13,911.70 1016.51,903.00 1024.89,893.70 1033.27,882.00 1041.65,887.50 1050.03,887.50 1058.41,885.80 1066.79,880.00 1075.17,885.80 1083.55,892.00 1091.93,896.70 1100.31,884.70 1108.69,884.70 1117.07,882.50 1125.45,894.20 1133.83,894.70 1142.21,900.30 1150.59,912.50 1158.97,888.30 1167.35,888.30 1175.73,889.20 1184.11,884.20 1192.49,899.70 1200.87,911.70 1209.25,903.00 1217.63,917.50 1226.01,917.50 1234.39,914.70 1242.77,897.50 1251.15,873.30 1259.53,892.50 1267.91,900.80 1276.28,909.20 1284.66,909.20 1293.04,904.20 1301.42,909.20 1309.80,918.00 1318.18,910.80 1326.56,915.80 1334.94,925.00 1343.32,925.00 1351.70,922.00 1360.08,903.00 1368.46,895.00 1376.84,847.50 1385.22,857.50 1393.60,874.20 1401.98,874.20 1410.36,871.30 1418.74,860.00 1427.12,858.00 1435.50,904.70 1443.88,913.30 1452.26,934.70 1460.64,934.70 1469.02,932.50 1477.40,924.20 1485.78,914.70 1494.16,911.30 1502.54,890.80 1510.92,861.30 1519.30,861.30 1527.68,853.30 1536.06,839.20 1544.44,840.80 1552.82,868.30 1561.20,857.00 1569.58,849.30 1577.96,849.30 1586.34,846.50 1594.72,831.50 1603.10,832.00 1611.48,826.40 1619.86,838.70 1628.24,839.40 1636.62,839.40 1645.00,836.90" fill="none" stroke="#1e9fe3" stroke-width="2.6" stroke-linejoin="miter"/>
<polyline points="145.00,951.70 153.38,953.70 161.76,961.30 170.14,961.30 178.52,947.50 186.90,947.50 195.28,939.20 203.66,939.70 212.04,965.80 220.42,973.70 228.80,973.70 237.18,953.30 245.56,962.00 253.94,962.50 262.32,968.00 270.70,963.00 279.08,960.80 287.46,960.80 295.84,958.70 304.22,949.20 312.60,952.00 320.98,946.30 329.36,946.70 337.74,956.70 346.12,956.70 354.50,950.30 362.88,945.30 371.26,962.50 379.64,962.50 388.02,946.30 396.40,936.30 404.78,936.30 413.16,937.00 421.54,913.00 429.92,946.00 438.30,953.00 446.68,958.00 455.06,955.30 463.44,955.30 471.82,953.70 480.20,953.00 488.58,945.00 496.96,917.50 505.34,948.00 513.72,959.20 522.09,959.20 530.47,960.00 538.85,943.00 547.23,941.70 555.61,945.80 563.99,940.80 572.37,938.00 580.75,938.00 589.13,935.80 597.51,930.80 605.89,931.30 614.27,931.30 622.65,931.70 631.03,927.50 639.41,927.50 647.79,928.70 656.17,925.80 664.55,923.00 672.93,917.50 681.31,920.00 689.69,935.00 698.07,935.00 706.45,934.70 714.83,923.70 723.21,925.00 731.59,927.00 739.97,927.50 748.35,932.50 756.73,933.00 765.11,934.20 773.49,921.70 781.87,916.70 790.25,915.80 798.63,906.30 807.01,910.00 815.39,910.00 823.77,909.20 832.15,908.30 840.53,904.70 848.91,900.80 857.29,904.70 865.67,903.00 874.05,903.00 882.43,900.00 890.81,897.00 899.19,919.20 907.57,923.30 915.95,920.00 924.33,928.30 932.71,928.30 941.09,925.80 949.47,918.00 957.85,915.30 966.23,919.20 974.61,923.70 982.99,923.70 991.37,923.70 999.75,924.20 1008.13,913.30 1016.51,931.30 1024.89,948.00 1033.27,948.00 1041.65,946.70 1050.03,946.70 1058.41,947.50 1066.79,948.00 1075.17,935.00 1083.55,947.50 1091.93,941.30 1100.31,954.20 1108.69,954.20 1117.07,954.20 1125.45,936.70 1133.83,938.70 1142.21,950.00 1150.59,932.00 1158.97,958.70 1167.35,958.70 1175.73,953.00 1184.11,937.50 1192.49,918.00 1200.87,900.30 1209.25,913.70 1217.63,898.30 1226.01,898.30 1234.39,899.70 1242.77,910.80 1251.15,949.70 1259.53,928.30 1267.91,928.00 1276.28,931.30 1284.66,931.30 1293.04,927.50 1301.42,898.00 1309.80,900.30 1318.18,893.30 1326.56,891.30 1334.94,895.80 1343.32,895.80 1351.70,891.70 1360.08,897.00 1368.46,895.80 1376.84,930.30 1385.22,944.20 1393.60,924.20 1401.98,924.20 1410.36,924.70 1418.74,929.70 1427.12,943.30 1435.50,927.00 1443.88,925.00 1452.26,923.30 1460.64,923.30 1469.02,922.00 1477.40,912.00 1485.78,930.30 1494.16,923.30 1502.54,944.20 1510.92,964.20 1519.30,964.20 1527.68,963.00 1536.06,952.00 1544.44,955.30 1552.82,955.80 1561.20,962.00 1569.58,966.50 1577.96,966.50 1586.34,963.30 1594.72,959.75 1603.10,950.70 1611.48,944.90 1619.86,948.40 1628.24,952.75 1636.62,952.75 1645.00,955.40" fill="none" stroke="#d0021b" stroke-width="2.6" stroke-linejoin="miter"/>
<line x1="1653.8" y1="807.0" x2="1653.8" y2="976.8" stroke="#8a8a8a" stroke-width="2"/>
<line x1="1653" y1="807.0" x2="1665" y2="807.0" stroke="#8a8a8a" stroke-width="2"/>
<text x="1672" y="814.0" font-size="22" fill="#1f2d3d" textLength="34" lengthAdjust="spacingAndGlyphs">500</text>
<line x1="1653" y1="849.5" x2="1665" y2="849.5" stroke="#8a8a8a" stroke-width="2"/>
<text x="1672" y="856.5" font-size="22" fill="#1f2d3d" textLength="34" lengthAdjust="spacingAndGlyphs">400</text>
<line x1="1653" y1="891.9" x2="1665" y2="891.9" stroke="#8a8a8a" stroke-width="2"/>
<text x="1672" y="898.9" font-size="22" fill="#1f2d3d" textLength="34" lengthAdjust="spacingAndGlyphs">300</text>
<line x1="1653" y1="934.3" x2="1665" y2="934.3" stroke="#8a8a8a" stroke-width="2"/>
<text x="1672" y="941.3" font-size="22" fill="#1f2d3d" textLength="34" lengthAdjust="spacingAndGlyphs">200</text>
<line x1="1653" y1="976.8" x2="1665" y2="976.8" stroke="#8a8a8a" stroke-width="2"/>
<text x="1672" y="983.8" font-size="22" fill="#1f2d3d" textLength="34" lengthAdjust="spacingAndGlyphs">100</text>
<line x1="372.1" y1="973.8" x2="372.1" y2="987.6" stroke="#8a8a8a" stroke-width="2"/>
<text transform="translate(379.3,999.6) rotate(-90)" font-size="23.5" fill="#1f2d3d" text-anchor="end" textLength="115.5" lengthAdjust="spacingAndGlyphs">2023-Nov-01</text>
<line x1="623.3" y1="973.8" x2="623.3" y2="987.6" stroke="#8a8a8a" stroke-width="2"/>
<text transform="translate(630.5,999.6) rotate(-90)" font-size="23.5" fill="#1f2d3d" text-anchor="end" textLength="117.7" lengthAdjust="spacingAndGlyphs">2023-Dec-01</text>
<line x1="883.0" y1="973.8" x2="883.0" y2="987.6" stroke="#8a8a8a" stroke-width="2"/>
<text transform="translate(890.2,999.6) rotate(-90)" font-size="23.5" fill="#1f2d3d" text-anchor="end" textLength="115.2" lengthAdjust="spacingAndGlyphs">2024-Jan-01</text>
<line x1="1142.8" y1="973.8" x2="1142.8" y2="987.6" stroke="#8a8a8a" stroke-width="2"/>
<text transform="translate(1150.0,999.6) rotate(-90)" font-size="23.5" fill="#1f2d3d" text-anchor="end" textLength="115.2" lengthAdjust="spacingAndGlyphs">2024-Feb-01</text>
<line x1="1385.8" y1="973.8" x2="1385.8" y2="987.6" stroke="#8a8a8a" stroke-width="2"/>
<text transform="translate(1393.0,999.6) rotate(-90)" font-size="23.5" fill="#1f2d3d" text-anchor="end" textLength="117.4" lengthAdjust="spacingAndGlyphs">2024-Mar-01</text>
<line x1="1645.3" y1="973.8" x2="1645.3" y2="987.6" stroke="#8a8a8a" stroke-width="2"/>
<text transform="translate(1652.5,999.6) rotate(-90)" font-size="23.5" fill="#1f2d3d" text-anchor="end" textLength="113.2" lengthAdjust="spacingAndGlyphs">2024-Apr-01</text>
<g fill="#4a5465">
<path fill-rule="evenodd" d="M1523.3,57.1H1535C1543.2,57.1 1549,63.2 1549,71.45C1549,79.7 1543.2,85.8 1535,85.8H1523.3Z M1529,62.5H1535C1539.8,62.5 1542.9,66.3 1542.9,71.05C1542.9,75.8 1539.8,79.6 1535,79.6H1529Z"/>
<path fill-rule="evenodd" d="M1556.9,85.8V68.1A12.05,12.05 0 0 1 1581,68.1V85.8H1574.8V78.6H1562.9V85.8Z M1562.9,72.9V68.1A5.95,5.95 0 0 1 1574.8,68.1V72.9Z"/>
<rect x="1591" y="57.1" width="6.9" height="28.7"/><rect x="1593.3" y="51.2" width="2.5" height="40.5"/>
<path d="M1608.2,57.1H1614.9V80H1626.8V85.8H1608.2Z"/>
<path d="M1631.5,57.1H1637.9V66.5C1637.9,70.8 1640.2,73.75 1643,73.75C1645.8,73.75 1647.9,70.8 1647.9,66.5V57.1H1654.6V66.5C1654.6,73.2 1651,77.8 1646.1,78.9V85.8H1640V78.9C1635.1,77.8 1631.5,73.2 1631.5,66.5Z"/>
</g>
<g fill="#ff7600">
<path d="M1664.7,57H1690V64.3H1672.9V68.3H1689.8V76.3H1672.9V85.8H1664.7Z"/>
<path d="M1695.8,57H1704.9L1711.5,64.3L1717.8,57H1727.1L1716.7,70.7L1728.2,85.8H1718.2L1711.5,77L1704.9,85.8H1695L1706.3,70.7Z"/>
</g>
<text x="1590" y="112.7" font-size="18.5" fill="#5b6577" textLength="102" lengthAdjust="spacingAndGlyphs">provided by</text>
<rect x="1703" y="96.2" width="3.9" height="20.8" fill="#e0141b"/>
<path d="M1725.4,100.4A9.1,9.1 0 1 0 1727.3,109.5V106.9H1719.7" fill="none" stroke="#e0141b" stroke-width="3.8"/>
<path d="M1627,1110.3H1666L1665,1115H1626Z" fill="#ffffff"/>
<path d="M1575.3,1109.4L1574.9,1115.5M1577.4,1118L1588,1117.7M1589,1117L1616.4,1117M1617.5,1110.8L1616.4,1117M1566.6,1123.5L1576,1123.8M1570.2,1126L1571,1133M1584.7,1126.7L1602.7,1126.7M1584.7,1126.7L1583.3,1135.3M1613.5,1121L1604.9,1159.2M1597.6,1128.2L1600.5,1135.3M1593.3,1144L1595.9,1153.4M1562.3,1141.2L1570.2,1141.5M1581,1143.3L1598.4,1143.3M1570.2,1143.3L1560.8,1160.6M1553.6,1161.4L1560.8,1161.4M1571,1161.4L1602,1161.4M1580.3,1143.3L1578.2,1153.4M1626.5,1115.5L1664.8,1115.5M1633,1118L1630.9,1128.9M1621.5,1137.5L1660.5,1137.5M1657.6,1144.8L1655.4,1152M1616.4,1152L1655.4,1152M1676.4,1109.4L1662.6,1160M1641.7,1162L1659.7,1162M1689.5,1117.3L1700.3,1117.3M1689.5,1117.3L1681.6,1146.9M1698.9,1118.8L1692.4,1142.6M1681.6,1147.7L1674.3,1148.4M1692.4,1147.7L1700.3,1148.4M1685.2,1154.2L1674.3,1161.4M1693.1,1149.1L1697.4,1159.2M1711.2,1109.4L1701.8,1146.2M1710.4,1120.9L1724.2,1120.9M1724.2,1123.1L1707.5,1159.9M1737.9,1110.8L1726.3,1157.8M1712.6,1160.6L1724.9,1159.2M1763.1,1109.4L1750.9,1123.1M1764.6,1121.7L1749.4,1139.7M1741.5,1131.8L1746.5,1131.8M1737.9,1148.4L1756.6,1148.4M1735,1161.4L1753,1161.4M1768.9,1115.9L1783.4,1115.9M1797.8,1110L1786.2,1124.5M1763.9,1135.4L1792,1135.4M1760.3,1144.8L1789.1,1144.8M1758.8,1141.9L1753.8,1161.4M1778.3,1146.2L1776.1,1152.7M1755.9,1161.4L1784.8,1161.4M1785.5,1154.9L1784.1,1160.6" stroke="#737a82" stroke-width="1.6" fill="none" stroke-linecap="round" opacity="0.85"/>
<text x="1563.8" y="1194.8" font-size="31" font-weight="bold" font-style="italic" fill="#79b7e3" textLength="19.5" lengthAdjust="spacingAndGlyphs">z</text>
<text x="1590.5" y="1194.8" font-size="31" font-weight="bold" font-style="italic" fill="#79b7e3" textLength="21.7" lengthAdjust="spacingAndGlyphs">z</text>
<text x="1619.4" y="1194.8" font-size="31" font-weight="bold" font-style="italic" fill="#79b7e3" textLength="17.4" lengthAdjust="spacingAndGlyphs">r</text>
<text x="1643.9" y="1194.8" font-size="31" font-weight="bold" font-style="italic" fill="#79b7e3" textLength="16.0" lengthAdjust="spacingAndGlyphs">t</text>
<text x="1663.5" y="1194.8" font-size="31" font-weight="bold" font-style="italic" fill="#79b7e3" textLength="20.9" lengthAdjust="spacingAndGlyphs">0</text>
<text x="1698.1" y="1194.8" font-size="31" font-weight="bold" font-style="italic" fill="#79b7e3" textLength="15.2" lengthAdjust="spacingAndGlyphs">1</text>
<text x="1720.5" y="1194.8" font-size="31" font-weight="bold" font-style="italic" fill="#79b7e3" textLength="11.5" lengthAdjust="spacingAndGlyphs">.</text>
<text x="1740.7" y="1194.8" font-size="31" font-weight="bold" font-style="italic" fill="#79b7e3" textLength="18.9" lengthAdjust="spacingAndGlyphs">c</text>
<text x="1765.3" y="1194.8" font-size="31" font-weight="bold" font-style="italic" fill="#79b7e3" textLength="23.2" lengthAdjust="spacingAndGlyphs">n</text>
</svg></body></html>
